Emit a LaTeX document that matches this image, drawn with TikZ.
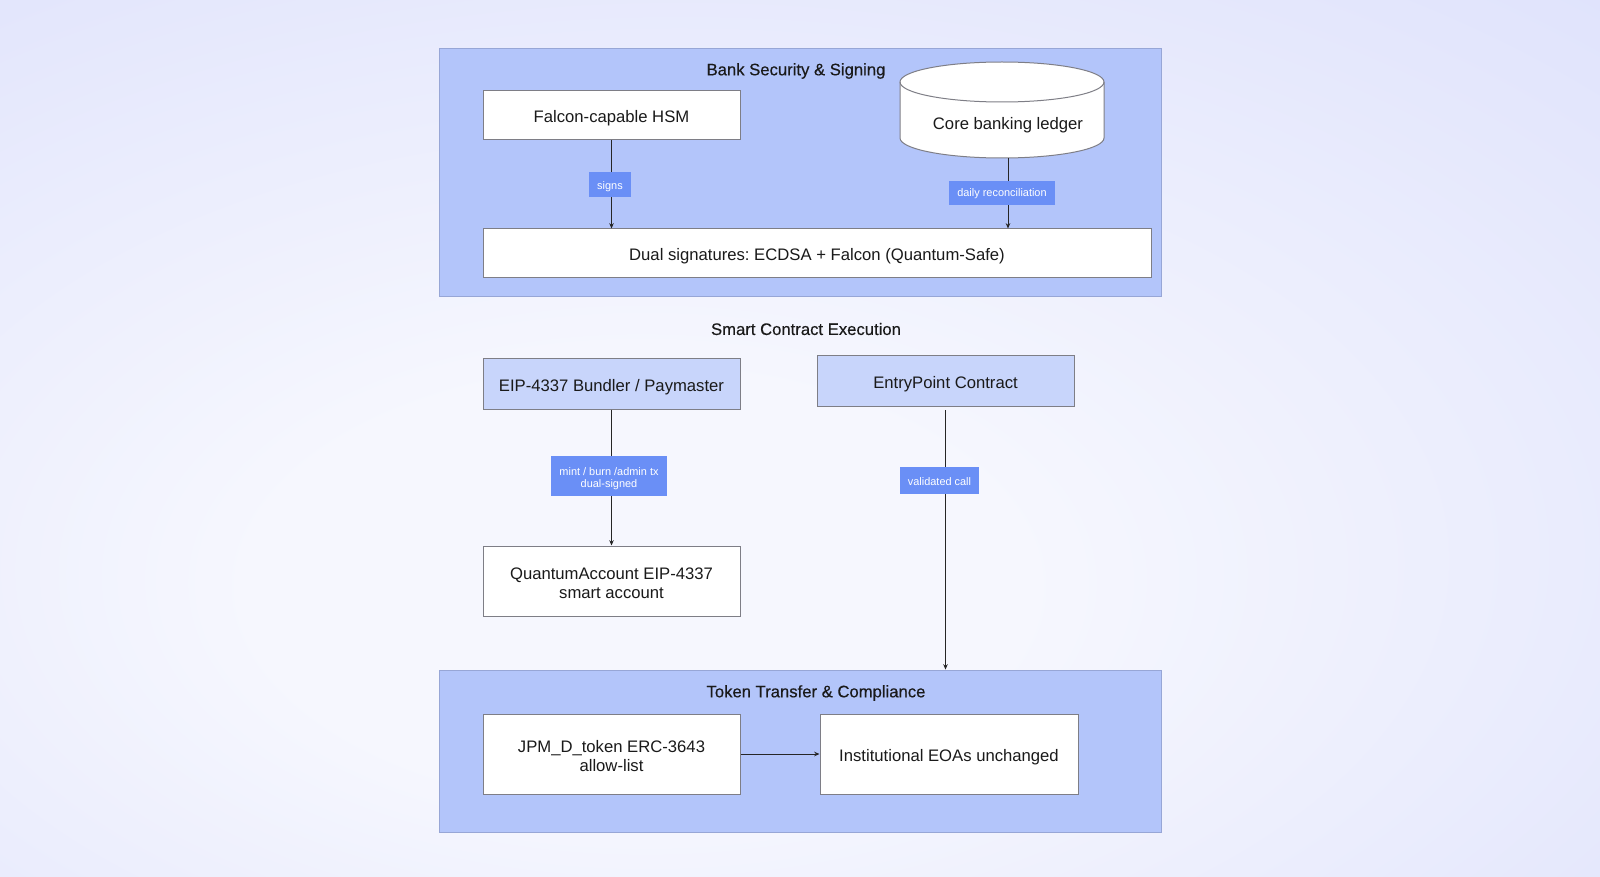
\documentclass[tikz,border=0pt]{standalone}
\usepackage{fontspec}
\setmainfont{Liberation Sans}
\newfontfamily\titlefont{Liberation Sans}[FakeBold=0.35]
\usetikzlibrary{arrows.meta}
\frenchspacing
\definecolor{bgin}{HTML}{F6F7FE}
\definecolor{bgout}{HTML}{D9DDFB}
\definecolor{groupfill}{HTML}{B3C5FA}
\definecolor{groupline}{HTML}{97A6D6}
\definecolor{bluebox}{HTML}{C8D5FB}
\definecolor{boxline}{HTML}{7E7E86}
\definecolor{lblfill}{HTML}{6A8FF6}
\definecolor{txt}{HTML}{1A1A1A}
\newcommand\lowered[2]{\raisebox{-#1}[\height][\depth]{#2}}
\newcommand\twolines[2]{\begin{tabular}{@{}c@{}}#1\\#2\end{tabular}}
\pgfdeclareradialshading{softglow}{\pgfpoint{-6bp}{-10bp}}{color(0bp)=(bgin); color(12bp)=(bgin); color(50bp)=(bgout); color(80bp)=(bgout)}
\tikzset{
  sz/.style 2 args={minimum width=#1*0.75pt, minimum height=#2*0.75pt},
  group/.style={draw=groupline, line width=0.7pt, fill=groupfill, inner sep=0pt},
  wbox/.style={draw=boxline, line width=0.75pt, fill=white, inner sep=0pt, align=center,
    text=txt, font=\fontsize{12.5}{14}\selectfont},
  bbox/.style={wbox, fill=bluebox},
  grouptitle/.style={text=txt, font=\titlefont\fontsize{12.5}{14}\selectfont, inner sep=0pt},
  lbl/.style={fill=lblfill, text=white, align=center, inner xsep=6pt, inner ysep=0pt,
    minimum height=18.5pt, font=\fontsize{8.2}{8.6}\selectfont},
  conn/.style={draw=black!85, line width=0.6pt, -{Stealth[length=4pt,width=3.4pt]}},
}
\begin{document}
\begin{tikzpicture}[x=0.75pt,y=-0.75pt]
  % background
  \path[shading=softglow] (0,0) rectangle (1600,877);
  \useasboundingbox (0,0) rectangle (1600,877);

  % groups
  \node[group, sz={722}{248}] (bank) at (800,172) {};
  \node[group, sz={722}{162}] (token) at (800,751) {};
  \node[grouptitle] (banktitle) at (796,71) {Bank Security \& Signing};
  \node[grouptitle] (smarttitle) at (806,329) {Smart Contract Execution};
  \node[grouptitle] (tokentitle) at (816,693) {Token Transfer \& Compliance};

  % bank security
  \node[wbox, sz={257}{49}] (hsm) at (611.5,115.5) {\lowered{2.25pt}{Falcon-capable HSM}};
  \node[wbox, sz={668}{49}] (dual) at (817,253.5) {\lowered{2.25pt}{Dual signatures: ECDSA + Falcon (Quantum-Safe)}};
  \path[draw=boxline, line width=0.75pt, fill=white]
    (900,82) -- (900,138)
    arc[start angle=180, end angle=360, x radius=76.5pt, y radius=15pt]
    -- (1104,82)
    arc[start angle=0, end angle=180, x radius=76.5pt, y radius=15pt] -- cycle;
  \draw[draw=boxline, line width=0.75pt]
    (900,82) arc[start angle=180, end angle=360, x radius=76.5pt, y radius=15pt];
  \node[text=txt, font=\fontsize{12.5}{14}\selectfont, inner sep=0pt] (ledger) at (1008,125) {Core banking ledger};
  \coordinate (ledgerbot) at (1008,158);

  % smart contract execution
  \node[bbox, sz={257}{50}] (bundler) at (611.5,384) {\lowered{2.25pt}{EIP-4337 Bundler / Paymaster}};
  \node[bbox, sz={257}{50}] (entry) at (945.5,381) {\lowered{2.25pt}{EntryPoint Contract}};
  \node[wbox, sz={257}{70}] (qa) at (611.5,581) {\lowered{3.3pt}{\twolines{QuantumAccount EIP-4337}{smart account}}};
  \coordinate (entrybot) at (945.5,410);

  % token transfer
  \node[wbox, sz={257}{80}] (jpm) at (611.5,754) {\lowered{3.3pt}{\twolines{JPM\_D\_token ERC-3643}{allow-list}}};
  \node[wbox, sz={258}{80}] (inst) at (949,754) {\lowered{2.25pt}{Institutional EOAs unchanged}};

  % connectors
  \draw[conn] (hsm.south) -- (hsm.south |- dual.north);
  \draw[conn] (ledgerbot) -- (ledgerbot |- dual.north);
  \draw[conn] (bundler.south) -- (qa.north);
  \draw[conn] (entrybot) -- (entrybot |- token.north);
  \draw[conn] (jpm.east) -- (inst.west);

  % labels
  \node[lbl] (lsigns) at (610,184.5) {\lowered{1.5pt}{signs}};
  \node[lbl] (ldaily) at (1002,193) {\lowered{0.8pt}{daily reconciliation}};
  \node[lbl, minimum height=30pt, inner xsep=6.5pt] (lmint) at (609,476) {\lowered{2.25pt}{\twolines{mint / burn /admin tx}{dual-signed}}};
  \node[lbl, minimum height=20pt] (lvalid) at (939.5,480.5) {\lowered{0.8pt}{validated call}};
\end{tikzpicture}
\end{document}
